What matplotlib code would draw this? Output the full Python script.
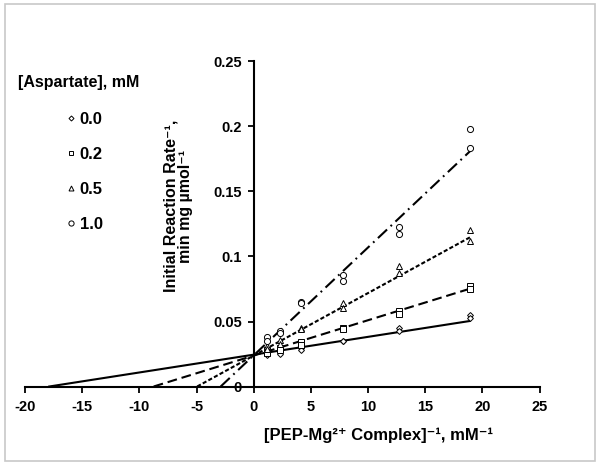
import matplotlib
matplotlib.use('Agg')
from matplotlib import pyplot as plt
from matplotlib.patches import Rectangle

plt.rcParams['font.family'] = ['Liberation Sans', 'DejaVu Sans']
plt.rcParams['font.weight'] = 'bold'
plt.rcParams['axes.unicode_minus'] = False
plt.rcParams['lines.scale_dashes'] = False

# 1/[PEP-Mg] values, each measured twice
inv_pep = [1.2, 1.2, 2.3, 2.3, 4.1, 4.1, 7.8, 7.8, 12.7, 12.7, 18.9, 18.9]

# 1/rate for each aspartate level
rate_asp00 = [0.026, 0.024, 0.027, 0.025, 0.030, 0.028, 0.035, 0.035, 0.045, 0.043, 0.055, 0.053]
rate_asp02 = [0.028, 0.026, 0.030, 0.028, 0.034, 0.032, 0.045, 0.044, 0.058, 0.056, 0.0775, 0.075]
rate_asp05 = [0.031, 0.029, 0.036, 0.033, 0.045, 0.044, 0.0645, 0.060, 0.093, 0.087, 0.120, 0.112]
rate_asp10 = [0.038, 0.035, 0.043, 0.041, 0.065, 0.064, 0.086, 0.081, 0.123, 0.117, 0.198, 0.1835]

# fitted lines (slope, intercept) as drawn in the figure
fit_slopes = [0.00137, 0.00272, 0.00481, 0.0083]
fit_intercepts = [0.0245, 0.0238, 0.0238, 0.024]

labels = ['0.0', '0.2', '0.5', '1.0']
series = [rate_asp00, rate_asp02, rate_asp05, rate_asp10]
markers = ['D', 's', '^', 'o']
msizes = [3.0, 3.8, 4.2, 4.4]
linestyles = ['-', (0, (7, 3.5)), (0, (3, 1.6)), (0, (9, 3.5, 1.3, 3.5))]

fig = plt.figure(figsize=(6, 4.65), dpi=100)
ax = fig.add_axes([0.0417, 0.1688, 0.8577, 0.699])

x_end = max(inv_pep)
handles = []
for ys, m, ms, ls, slope, icpt, lab in zip(series, markers, msizes, linestyles,
                                             fit_slopes, fit_intercepts, labels):
    h, = ax.plot(inv_pep, ys, linestyle='none', marker=m, markersize=ms,
                 markerfacecolor='white', markeredgecolor='black',
                 markeredgewidth=0.7, label=lab, zorder=3)
    handles.append(h)
    x0 = -icpt / slope
    ax.plot([x0, x_end], [0, icpt + slope * x_end], color='black', lw=1.5,
            linestyle=ls, zorder=2)

ax.set_xlim(-20, 25)
ax.set_ylim(0, 0.25)
ax.set_xticks(range(-20, 30, 5))
ax.set_yticks([0, 0.05, 0.1, 0.15, 0.2, 0.25])
ax.set_yticklabels(['0', '0.05', '0.1', '0.15', '0.2', '0.25'])

ax.spines['left'].set_position(('data', 0))
ax.spines['bottom'].set_position(('data', 0))
ax.spines['top'].set_visible(False)
ax.spines['right'].set_visible(False)
for s in ['left', 'bottom']:
    ax.spines[s].set_linewidth(1.5)
ax.patch.set_visible(False)

ax.tick_params(axis='x', direction='out', length=4, width=1.3, pad=6, labelsize=10.5)
ax.tick_params(axis='y', direction='out', length=4, width=1.3, pad=4.5, labelsize=10.5)

fig.text(0.63, 1 - 435 / 465, '[PEP-Mg\u00b2\u207a Complex]\u207b\u00b9, mM\u207b\u00b9',
         ha='center', va='center', fontsize=12, fontweight='bold')
fig.text(178 / 600, 1 - 206 / 465,
         'Initial Reaction Rate\u207b\u00b9,\nmin mg \u00b5mol\u207b\u00b9',
         rotation=90, ha='center', va='center', fontsize=11.5, fontweight='bold',
         linespacing=0.95, multialignment='center')

fig.text(18 / 600, 1 - 82 / 465, '[Aspartate], mM', ha='left', va='center',
         fontsize=11.5, fontweight='bold')
fig.legend(handles=handles, labels=labels, loc='upper left',
           bbox_to_anchor=(49 / 600, 1 - 97 / 465), frameon=False,
           handlelength=0.8, handletextpad=0.15, labelspacing=1.2,
           markerscale=0.85, prop={'size': 12, 'weight': 'bold'})

fig.patches.append(Rectangle((5 / 600, 4 / 465), 590 / 600, 457 / 465,
                             transform=fig.transFigure, fill=False,
                             edgecolor='#c8c8c8', lw=1.2))

fig.savefig('out.png', dpi=100)
